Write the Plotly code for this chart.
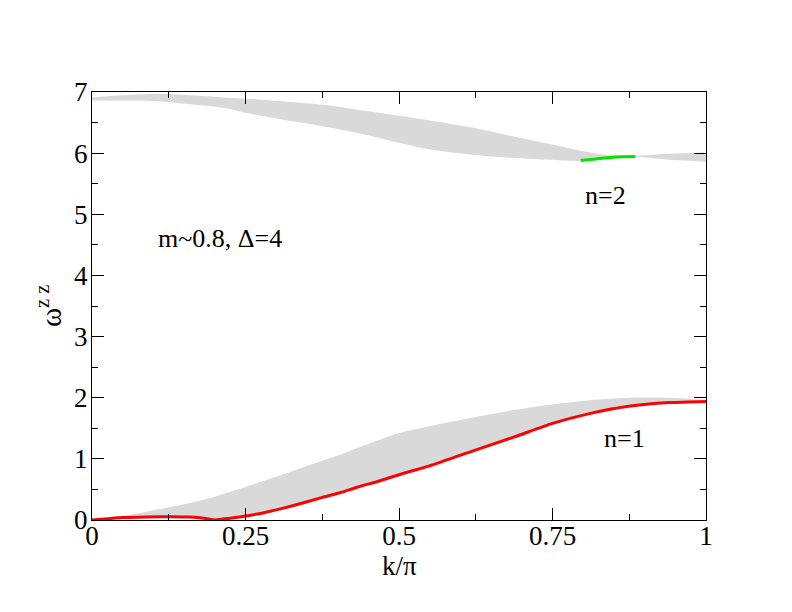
import plotly.graph_objects as go

# lower continuum (n=1), k/pi and omega
k_low = [0, 0.025, 0.05, 0.09, 0.125, 0.16, 0.185, 0.2, 0.225, 0.25, 0.28, 0.31, 0.34, 0.375,
         0.405, 0.433, 0.465, 0.5, 0.557, 0.623, 0.688, 0.75, 0.81, 0.874, 0.94, 1.0]
low_edge = [0, 0.02, 0.04, 0.05, 0.055, 0.05, 0.025, 0.0, 0.03, 0.065, 0.12, 0.19, 0.27, 0.37,
            0.45, 0.54, 0.63, 0.74, 0.91, 1.14, 1.36, 1.58, 1.74, 1.86, 1.92, 1.94]
low_top = [0, 0.03, 0.065, 0.14, 0.21, 0.28, 0.34, 0.38, 0.46, 0.54, 0.64, 0.74, 0.85, 0.97,
           1.07, 1.18, 1.30, 1.42, 1.55, 1.68, 1.80, 1.89, 1.96, 2.0, 2.0, 1.96]

# upper continuum (n=2)
k_up = [0, 0.052, 0.106, 0.16, 0.215, 0.25, 0.31, 0.375, 0.433, 0.5, 0.557, 0.623, 0.688,
        0.75, 0.796, 0.84, 0.883, 0.94, 1.0]
up_top = [6.91, 6.945, 6.97, 6.945, 6.91, 6.89, 6.85, 6.79, 6.71, 6.61, 6.52, 6.41, 6.27,
          6.14, 6.04, 5.97, 5.955, 5.99, 6.01]
up_bot = [6.86, 6.86, 6.85, 6.80, 6.74, 6.66, 6.55, 6.44, 6.33, 6.17, 6.05, 5.97, 5.92,
          5.89, 5.87, 5.90, 5.935, 5.89, 5.86]

# n=2 bound state
k_n2 = [0.796, 0.82, 0.84, 0.86, 0.885]
w_n2 = [5.88, 5.905, 5.925, 5.94, 5.945]

x_ticks = [0, 0.25, 0.5, 0.75, 1]
x_labels = ['0', '0.25', '0.5', '0.75', '1']
y_ticks = [0, 1, 2, 3, 4, 5, 6, 7]

GREY = '#d9d9d9'
FONT = 'Liberation Serif, Times New Roman, serif'

fig = go.Figure()

# grey bands: lower edge first, then upper edge filled down to it
fig.add_trace(go.Scatter(x=k_up, y=up_bot, mode='lines', line=dict(width=0, color=GREY, shape='spline'),
                         showlegend=False, hoverinfo='skip'))
fig.add_trace(go.Scatter(x=k_up, y=up_top, mode='lines', line=dict(width=0, color=GREY, shape='spline'),
                         fill='tonexty', fillcolor=GREY, showlegend=False, hoverinfo='skip'))
fig.add_trace(go.Scatter(x=k_low, y=low_edge, mode='lines', line=dict(width=0, color=GREY, shape='spline'),
                         showlegend=False, hoverinfo='skip'))
fig.add_trace(go.Scatter(x=k_low, y=low_top, mode='lines', line=dict(width=0, color=GREY, shape='spline'),
                         fill='tonexty', fillcolor=GREY, showlegend=False, hoverinfo='skip'))

# bound states
fig.add_trace(go.Scatter(x=k_low, y=low_edge, mode='lines',
                         line=dict(width=3, color='#ff0000', shape='spline', smoothing=0.6),
                         showlegend=False))
fig.add_trace(go.Scatter(x=k_n2, y=w_n2, mode='lines',
                         line=dict(width=3, color='#00e600', shape='spline'),
                         showlegend=False))

fig.add_annotation(x=0.105, y=4.6, text='m~0.8, \u0394=4', showarrow=False,
                   xanchor='left', yanchor='middle', font=dict(family=FONT, size=26, color='black'))
fig.add_annotation(x=0.80, y=5.31, text='n=2', showarrow=False,
                   xanchor='left', yanchor='middle', font=dict(family=FONT, size=26, color='black'))
fig.add_annotation(x=0.83, y=1.34, text='n=1', showarrow=False,
                   xanchor='left', yanchor='middle', font=dict(family=FONT, size=26, color='black'))

# axis titles
fig.add_annotation(xref='paper', yref='paper', x=0.5, y=-0.107, text='k/\u03c0', showarrow=False,
                   xanchor='center', yanchor='middle', font=dict(family=FONT, size=27, color='black'))
fig.add_annotation(xref='paper', yref='paper', x=-0.07, y=0.5, text='\u03c9<sup>z z</sup>',
                   textangle=-90, showarrow=False, xanchor='center', yanchor='middle',
                   font=dict(family=FONT, size=29, color='black'))

axis_style = dict(showline=True, linecolor='black', linewidth=1, mirror='ticks',
                  ticks='inside', ticklen=12, tickwidth=1, tickcolor='black',
                  showgrid=False, zeroline=False,
                  tickfont=dict(family=FONT, size=27, color='black'))

fig.update_layout(
    width=792, height=612,
    margin=dict(l=84, r=94, t=84, b=100),
    paper_bgcolor='white', plot_bgcolor='white',
    xaxis=dict(range=[0, 1], tickvals=x_ticks, ticktext=x_labels, ticklabelstandoff=-8,
               minor=dict(ticks='inside', ticklen=6, dtick=0.125, tickcolor='black'),
               **axis_style),
    yaxis=dict(range=[0, 7], tickvals=y_ticks, ticklabelstandoff=-2,
               minor=dict(ticks='inside', ticklen=6, dtick=0.5, tickcolor='black'),
               **axis_style),
)

fig.write_html("out.html")
